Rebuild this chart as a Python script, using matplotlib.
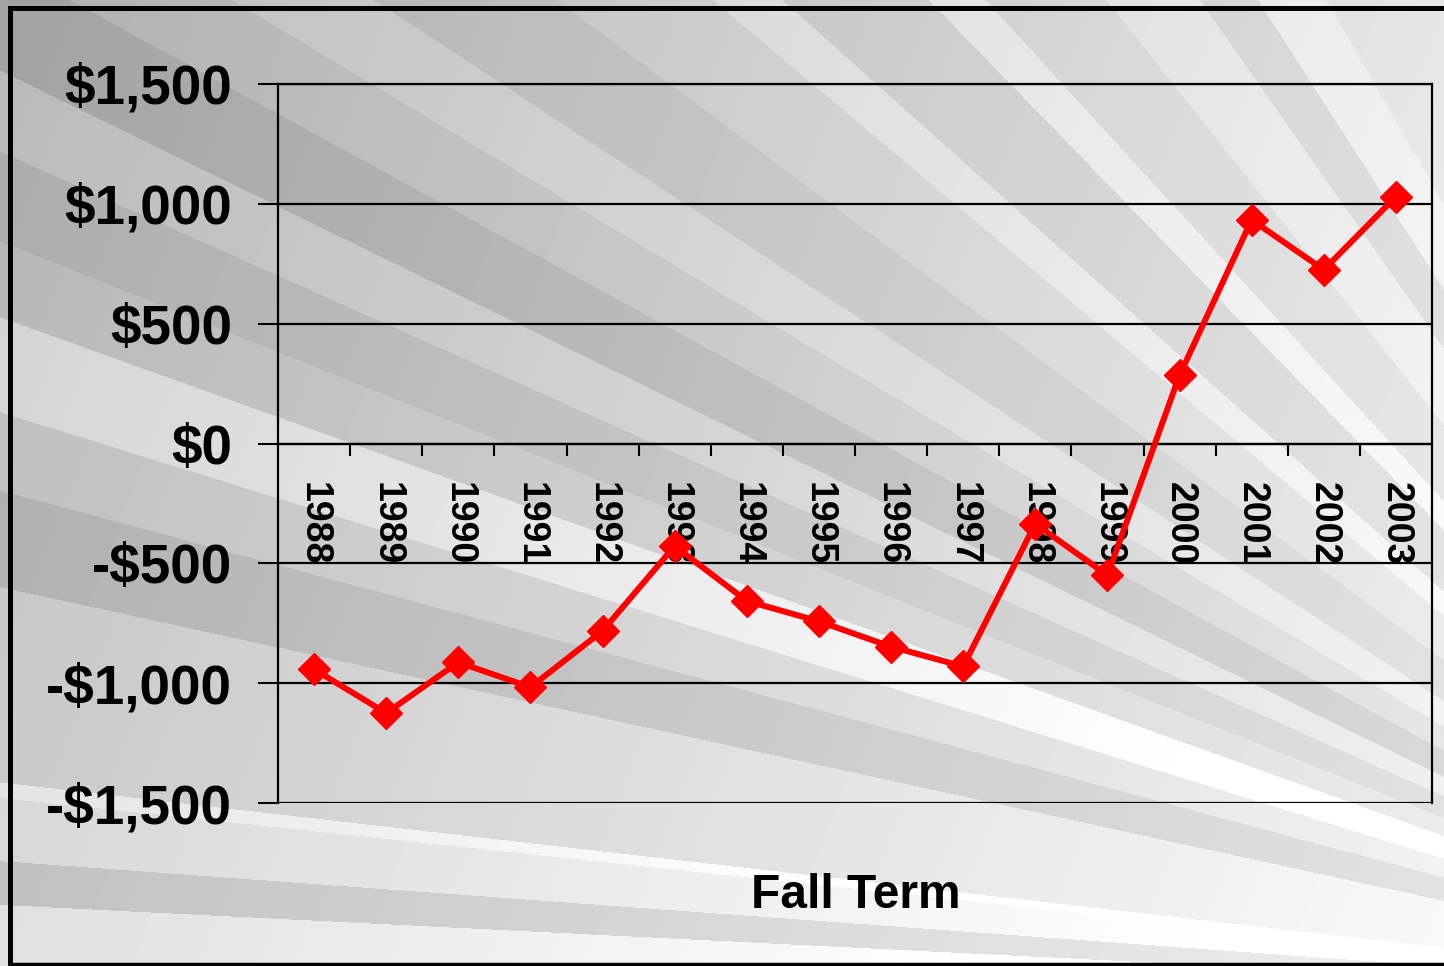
import numpy as np
import matplotlib
matplotlib.use("Agg")
import matplotlib.pyplot as plt
from matplotlib.lines import Line2D

# ---- data ----
years = ["1988", "1989", "1990", "1991", "1992", "1993", "1994", "1995",
         "1996", "1997", "1998", "1999", "2000", "2001", "2002", "2003"]
values = [-942, -1125, -913, -1017, -782, -428, -657, -742,
          -848, -930, -335, -550, 285, 933, 725, 1030]
y_ticks = [-1500, -1000, -500, 0, 500, 1000, 1500]
y_tick_labels = ["-$1,500", "-$1,000", "-$500", "$0", "$500", "$1,000", "$1,500"]
x_label = "Fall Term"

plt.rcParams['font.family'] = ['Liberation Sans', 'DejaVu Sans']
plt.rcParams['font.weight'] = 'bold'

W, H = 1444, 966
fig = plt.figure(figsize=(W / 100, H / 100), dpi=100)

# ---- background: grey rays converging to the lower right ----
bands = [
    (0.000, 0.050, 212), (0.050, 0.073, 182), (0.073, 0.106, 205),
    (0.106, 0.114, 218), (0.114, 0.214, 192), (0.214, 0.262, 170),
    (0.262, 0.300, 186), (0.300, 0.345, 208), (0.345, 0.380, 180),
    (0.380, 0.420, 170), (0.420, 0.455, 185), (0.455, 0.500, 162),
    (0.500, 0.540, 176), (0.540, 0.580, 188), (0.580, 0.640, 172),
    (0.640, 0.700, 182), (0.700, 0.730, 196), (0.730, 0.800, 176),
    (0.800, 0.830, 198), (0.830, 0.900, 180), (0.900, 0.960, 192),
    (0.960, 1.000, 175), (1.000, 1.050, 195), (1.050, 1.600, 185),
]
Xg, Yg = np.meshgrid(np.arange(W) + 0.5, np.arange(H) + 0.5)
theta = np.arctan2(1000 - Yg, 1900 - Xg)
img = np.full((H, W), 190.0)
for lo, hi, g in bands:
    img[(theta >= lo) & (theta < hi)] = g
img = img + 45 * (Xg / W) + 12 * (Yg / H)
img = np.clip(img, 0, 255) / 255.0
bg = fig.add_axes([0, 0, 1, 1], zorder=-10)
bg.imshow(img, cmap='gray', vmin=0, vmax=1, extent=[0, W, H, 0],
          aspect='auto', interpolation='bilinear')
bg.set_xlim(0, W)
bg.set_ylim(H, 0)
bg.axis('off')

# frame around the slide
fr_kw = dict(color='black', lw=3.6, transform=bg.transData, solid_capstyle='projecting')
bg.add_line(Line2D([10, 10], [8, 963], **fr_kw))
bg.add_line(Line2D([10, W + 5], [8, 8], **fr_kw))
bg.add_line(Line2D([10, W + 5], [964, 964], color='black', lw=2.5, transform=bg.transData))

# ---- main axes ----
left, right, top, bottom = 278, 1432, 84, 803
ax = fig.add_axes([left / W, 1 - bottom / H, (right - left) / W, (bottom - top) / H])
ax.set_facecolor('none')

x = np.arange(len(years))
ax.plot(x, values, color='#ff0000', lw=4.3, marker='D', markersize=16,
        markeredgecolor='#ff0000', zorder=3, clip_on=False)

ax.set_xlim(-0.5, len(years) - 0.5)
ax.set_ylim(-1500, 1500)

ax.set_yticks(y_ticks)
ax.set_yticklabels(y_tick_labels, fontsize=39.5, fontweight='bold')
ax.tick_params(axis='y', length=14.4, width=1.5, pad=18.5, direction='out')
ax.yaxis.grid(True, color='black', lw=1.6)
ax.set_axisbelow(True)

ax.spines['bottom'].set_position(('data', 0))
for s in ax.spines.values():
    s.set_color('black')
    s.set_linewidth(1.6)

ax.set_xticks(x)
ax.set_xticklabels(years, rotation=-90, fontsize=27, fontweight='bold')
ax.tick_params(axis='x', which='major', length=0, pad=28)
ax.set_xticks(np.arange(len(years) - 1) + 0.5, minor=True)
ax.tick_params(axis='x', which='minor', length=8.6, width=1.5, direction='out')
for lbl in ax.get_xticklabels():
    lbl.set_zorder(2)

fig.text(856 / W, 1 - 895 / H, x_label, ha='center', va='center',
         fontsize=34.5, fontweight='bold')

fig.savefig('out.png', dpi=100)
